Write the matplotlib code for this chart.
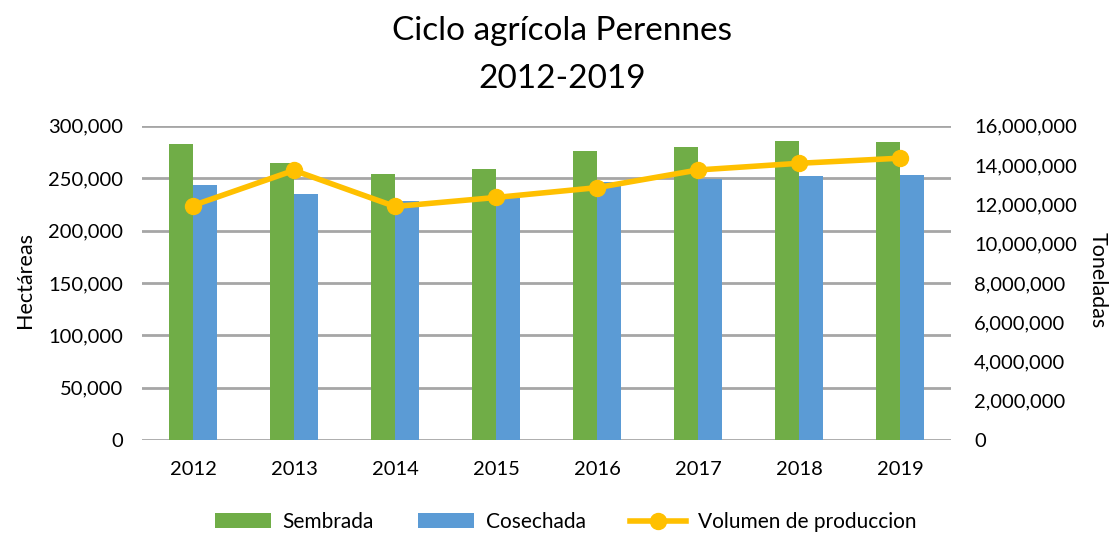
import matplotlib.pyplot as plt
import numpy as np
from matplotlib.ticker import FuncFormatter

plt.rcParams['font.family'] = ['Lato', 'DejaVu Sans']

# Datos
anios = ['2012', '2013', '2014', '2015', '2016', '2017', '2018', '2019']
sembrada = [283000, 264500, 254000, 259000, 276000, 279500, 285500, 284700]
cosechada = [243000, 235000, 228000, 231000, 246000, 249000, 252000, 253000]
volumen = [11940000, 13730000, 11890000, 12350000, 12850000, 13750000, 14090000, 14350000]

verde = '#70AD47'
azul = '#5B9BD5'
amarillo = '#FFC000'
gris = '#A6A6A6'

fig = plt.figure(figsize=(11.13, 5.33), dpi=100)
ax1 = fig.add_axes([0.128, 0.1745, 0.726, 0.5895])

x = np.arange(len(anios))
w = 0.238
ax1.bar(x - w / 2, sembrada, w, color=verde, label='Sembrada', zorder=3)
ax1.bar(x + w / 2, cosechada, w, color=azul, label='Cosechada', zorder=3)

ax1.set_xlim(-0.5, len(anios) - 0.5)
ax1.set_ylim(0, 300000)
ax1.set_yticks(np.arange(0, 300001, 50000))
ax1.yaxis.set_major_formatter(FuncFormatter(lambda v, p: f'{int(v):,}'))
ax1.set_xticks(x)
ax1.set_xticklabels(anios)
ax1.grid(axis='y', color=gris, linewidth=2, zorder=0)
ax1.set_axisbelow(True)
for s in ax1.spines.values():
    s.set_visible(False)
ax1.tick_params(axis='y', length=0, labelsize=14.5, pad=14)
ax1.tick_params(axis='x', length=0, labelsize=14.5, pad=15)

# Eje derecho
ax2 = ax1.twinx()
ax2.plot(x, volumen, color=amarillo, linewidth=4, marker='o', markersize=11.5,
         label='Volumen de produccion', zorder=4)
ax2.set_ylim(0, 16000000)
ax2.set_yticks(np.arange(0, 16000001, 2000000))
ax2.yaxis.set_major_formatter(FuncFormatter(lambda v, p: f'{int(v):,}'))
for s in ax2.spines.values():
    s.set_visible(False)
ax2.tick_params(length=0, labelsize=14.5, pad=17)

# Títulos de ejes
fig.text(0.0225, 0.475, 'Hectáreas', fontsize=15.5, rotation=90, ha='center', va='center')
fig.text(0.9865, 0.475, 'Toneladas', fontsize=15.5, rotation=270, ha='center', va='center')

# Título
fig.text(0.505, 1 - 40 / 533, 'Ciclo agrícola Perennes', fontsize=24, ha='center', va='baseline')
fig.text(0.505, 1 - 88 / 533, '2012-2019', fontsize=24, ha='center', va='baseline')

h1, l1 = ax1.get_legend_handles_labels()
h2, l2 = ax2.get_legend_handles_labels()
fig.legend(h1 + h2, l1 + l2, loc='center', bbox_to_anchor=(0.508, 1 - 522 / 533), ncol=3,
           frameon=False, fontsize=15, handlelength=2.7, handletextpad=0.57,
           columnspacing=2.1)

plt.savefig('out.png', dpi=100)
